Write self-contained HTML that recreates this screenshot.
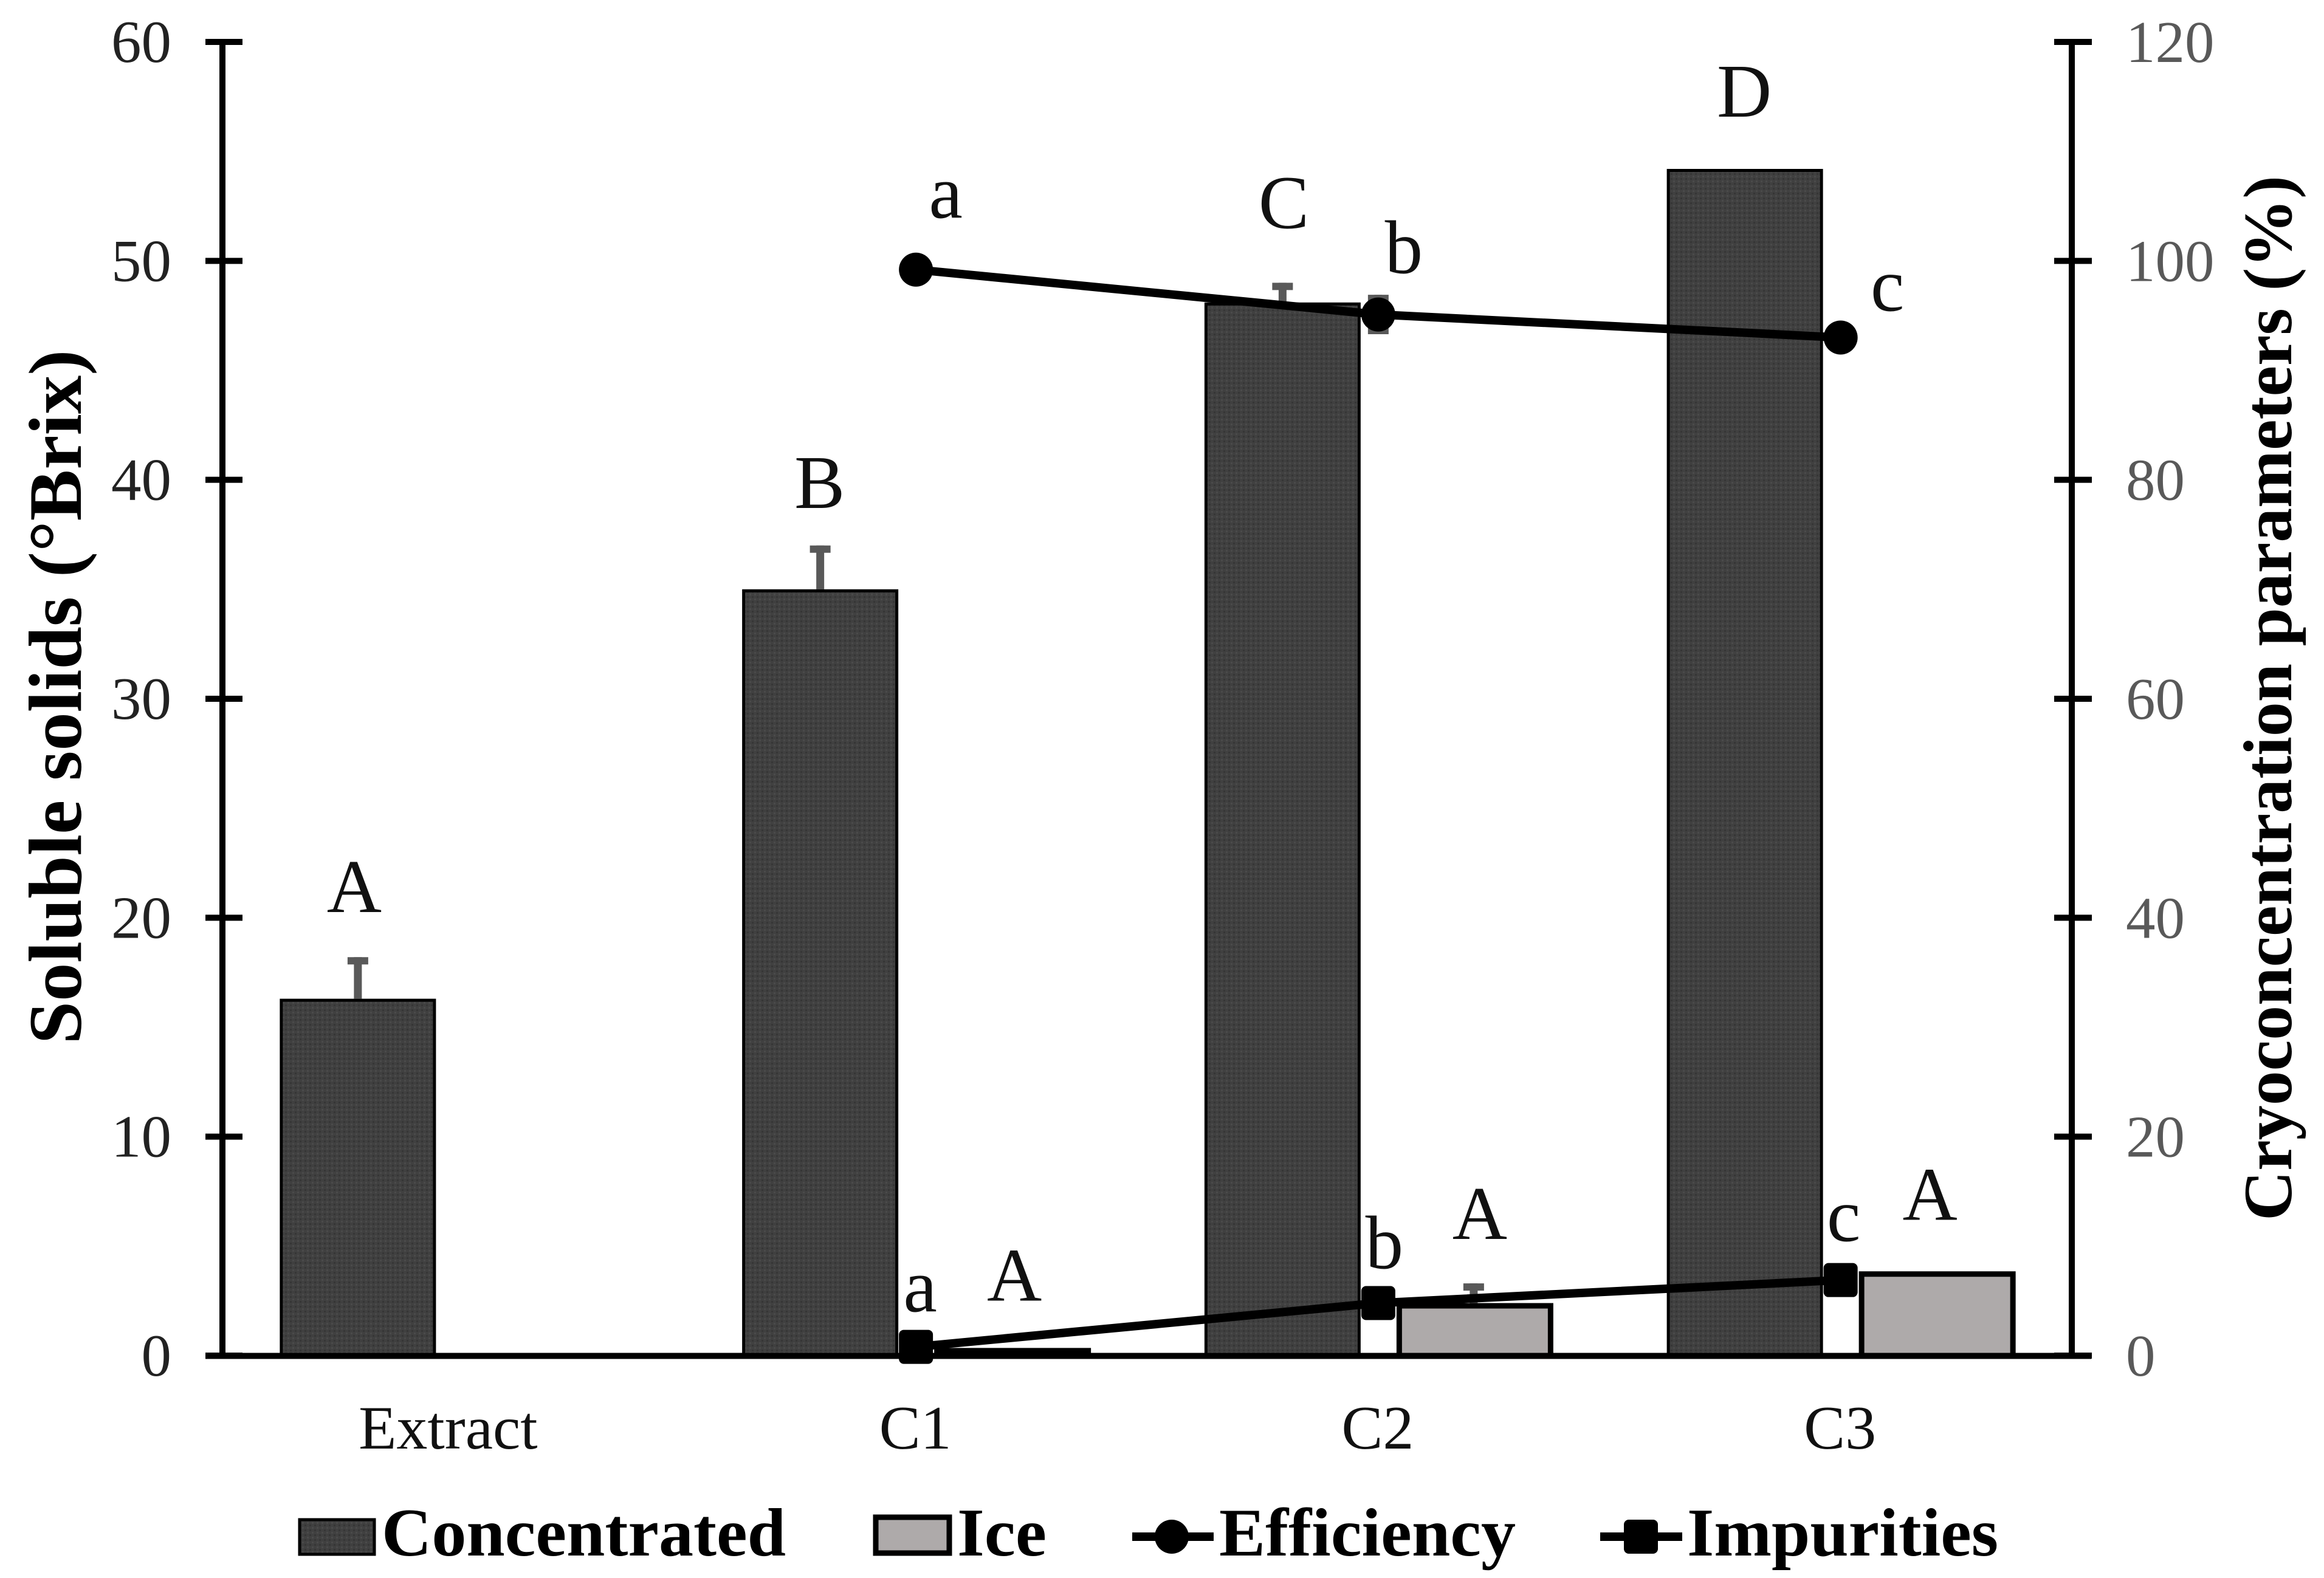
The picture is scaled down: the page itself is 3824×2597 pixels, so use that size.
<!DOCTYPE html>
<html lang="en">
<head>
<meta charset="utf-8">
<title>Soluble solids and cryoconcentration parameters</title>
<style>
html,body{margin:0;padding:0;background:#fff;}
svg{display:block;}
text{font-family:"Liberation Serif",serif;}
</style>
</head>
<body>
<svg id="chart" xmlns="http://www.w3.org/2000/svg" width="3824" height="2597" viewBox="0 0 3824 2597">
  <defs>
    <pattern id="bar-texture" width="8" height="8" patternUnits="userSpaceOnUse">
      <rect width="8" height="8" fill="#404040"/>
      <rect x="1" y="1" width="3" height="3" fill="#4a4a4a"/>
      <rect x="5" y="5" width="3" height="3" fill="#363636"/>
    </pattern>
  </defs>
  <rect x="0" y="0" width="3824" height="2597" fill="#fff"/>
  <g id="plot"></g>

  <text transform="translate(133,1147) rotate(-90)" text-anchor="middle" font-weight="bold" font-size="124" fill="#000" textLength="1143" lengthAdjust="spacingAndGlyphs">Soluble solids (°Brix)</text>
  <text transform="translate(3770,1149) rotate(-90)" text-anchor="middle" font-weight="bold" font-size="113" fill="#000" textLength="1720" lengthAdjust="spacingAndGlyphs">Cryoconcentration parameters (%)</text>

  <g>
    <g>
      <rect x="493" y="2501" width="123" height="57" fill="url(#bar-texture)" stroke="#000" stroke-width="5"/>
      <text x="628" y="2560" font-weight="bold" font-size="112" fill="#000" textLength="665" lengthAdjust="spacingAndGlyphs">Concentrated</text>
    </g>
    <g>
      <rect x="1441" y="2497" width="121" height="59" fill="#aeaaaa" stroke="#000" stroke-width="9"/>
      <text x="1575" y="2560" font-weight="bold" font-size="112" fill="#000" textLength="147" lengthAdjust="spacingAndGlyphs">Ice</text>
    </g>
    <g>
      <line x1="1863" y1="2529" x2="1997" y2="2529" stroke="#000" stroke-width="14"/>
      <circle cx="1928" cy="2529" r="28" fill="#000"/>
      <text x="2006" y="2560" font-weight="bold" font-size="112" fill="#000" textLength="488" lengthAdjust="spacingAndGlyphs">Efficiency</text>
    </g>
    <g>
      <line x1="2633" y1="2529" x2="2768" y2="2529" stroke="#000" stroke-width="14"/>
      <rect x="2672" y="2501" width="56" height="56" rx="8" fill="#000"/>
      <text x="2776" y="2560" font-weight="bold" font-size="112" fill="#000" textLength="512" lengthAdjust="spacingAndGlyphs">Impurities</text>
    </g>
  </g>
</svg>
<script>
const categories = ['Extract', 'C1', 'C2', 'C3'];
const concentrated = [16.3, 35.0, 48.1, 54.2];
const concentratedErr = [1.9, 2.0, 0.9, 0];
const ice = [null, 0.35, 2.4, 3.85];
const iceErr = [null, 0, 0.9, 0];
const efficiency = [null, 99.2, 95.1, 93.0];
const efficiencyErr = [null, 0, 1.8, 0];
const impurities = [null, 0.8, 4.8, 6.9];
const leftTicks = [0, 10, 20, 30, 40, 50, 60];
const rightTicks = [0, 20, 40, 60, 80, 100, 120];
const concentratedLetters = ['A', 'B', 'C', 'D'];
const iceLetters = [null, 'A', 'A', 'A'];
const efficiencyLetters = [null, 'a', 'b', 'c'];
const impurityLetters = [null, 'a', 'b', 'c'];

const NS = 'http://www.w3.org/2000/svg';
const plot = document.getElementById('plot');
const X0 = 366, X1 = 3409, Y0 = 2231, Y1 = 69;
const LEFT_MAX = 60, RIGHT_MAX = 120;
const band = (X1 - X0) / categories.length;
const catX = i => X0 + band * (i + 0.5);
const yL = v => Y0 - (v / LEFT_MAX) * (Y0 - Y1);
const yR = v => Y0 - (v / RIGHT_MAX) * (Y0 - Y1);

function make(tag, attrs, parent) {
  const el = document.createElementNS(NS, tag);
  for (const k in attrs) el.setAttribute(k, attrs[k]);
  (parent || plot).appendChild(el);
  return el;
}

function errorBar(cx, yBase, yTop, name, bothCaps) {
  const g = make('g', {});
  
  
  make('line', {x1: cx, x2: cx, y1: yBase, y2: yTop, stroke: '#595959', 'stroke-width': 13}, g);
  make('line', {x1: cx - 17, x2: cx + 17, y1: yTop + 6, y2: yTop + 6, stroke: '#595959', 'stroke-width': 12}, g);
  if (bothCaps) {
    make('line', {x1: cx - 17, x2: cx + 17, y1: yBase - 6, y2: yBase - 6, stroke: '#595959', 'stroke-width': 12}, g);
  }
}

function letter(str, x, y, name) {
  const t = make('text', {x: x, y: y, 'text-anchor': 'middle', 'font-size': 125, fill: '#111'});
  t.textContent = str;
  
  
}

// concentrated bars
const BW = 257;
const CONC_OFFSET = -286;
const ICE_OFFSET = 30;
const ICE_W = 258;
concentrated.forEach((v, i) => {
  const x = catX(i) + CONC_OFFSET;
  const top = yL(v);
  if (concentratedErr[i] > 0) {
    errorBar(x + BW / 2, top, yL(v + concentratedErr[i]), 'error-bar-concentrated-' + categories[i].toLowerCase(), false);
  }
  const r = make('rect', {x: x + 2.5, y: top + 2.5, width: BW - 5, height: Y0 - top - 2.5, fill: 'url(#bar-texture)', stroke: '#000', 'stroke-width': 5});
  
  
});

// ice bars
ice.forEach((v, i) => {
  if (v === null) return;
  const x = catX(i) + ICE_OFFSET;
  const top = yL(v);
  if (iceErr[i] > 0) {
    errorBar(x + ICE_W / 2 - 2, top, yL(v + iceErr[i]), 'error-bar-ice-' + categories[i].toLowerCase(), false);
  }
  const r = make('rect', {x: x + 4.5, y: top + 4.5, width: ICE_W - 9, height: Math.max(Y0 - top - 4.5, 1), fill: '#aeaaaa', stroke: '#000', 'stroke-width': 9});
  
  
});

// axes
const leftAxis = make('line', {x1: X0, x2: X0, y1: Y1 - 5, y2: Y0 + 5, stroke: '#000', 'stroke-width': 10});


const rightAxis = make('line', {x1: X1, x2: X1, y1: Y1 - 5, y2: Y0 + 5, stroke: '#000', 'stroke-width': 10});


const bottomAxis = make('line', {x1: 338, x2: 3441, y1: Y0 + 0.5, y2: Y0 + 0.5, stroke: '#000', 'stroke-width': 10});



leftTicks.forEach(v => {
  const y = yL(v);
  const tick = make('line', {x1: 338, x2: 399, y1: y, y2: y, stroke: '#000', 'stroke-width': 10});
  
  
  const t = make('text', {x: 282, y: y + 33, 'text-anchor': 'end', 'font-size': 99, fill: '#222'});
  t.textContent = v;
  
  
});

rightTicks.forEach(v => {
  const y = yR(v);
  const tick = make('line', {x1: 3380, x2: 3442, y1: y, y2: y, stroke: '#000', 'stroke-width': 10});
  
  
  const t = make('text', {x: 3498, y: y + 33, 'text-anchor': 'start', 'font-size': 97, fill: '#595959'});
  t.textContent = v;
  
  
});

categories.forEach((c, i) => {
  const t = make('text', {x: catX(i) - (i === 0 ? 9 : 1), y: 2384, 'text-anchor': 'middle', 'font-size': 102, fill: '#111'});
  t.textContent = c;
  
  
});

// efficiency line
const effPts = efficiency.map((v, i) => v === null ? null : [catX(i), yR(v)]).filter(Boolean);
const effLine = make('polyline', {points: effPts.map(p => p.join(',')).join(' '), fill: 'none', stroke: '#000', 'stroke-width': 14});


efficiency.forEach((v, i) => {
  if (v === null) return;
  if (efficiencyErr[i] > 0) {
    errorBar(catX(i), yR(v - efficiencyErr[i]), yR(v + efficiencyErr[i]), 'error-bar-efficiency-' + categories[i].toLowerCase(), true);
  }
  const m = make('circle', {cx: catX(i), cy: yR(v), r: 28, fill: '#000'});
  
  
});

// impurities line
const impPts = impurities.map((v, i) => v === null ? null : [catX(i), yR(v)]).filter(Boolean);
const impLine = make('polyline', {points: impPts.map(p => p.join(',')).join(' '), fill: 'none', stroke: '#000', 'stroke-width': 14});


impurities.forEach((v, i) => {
  if (v === null) return;
  const m = make('rect', {x: catX(i) - 28, y: yR(v) - 28, width: 56, height: 56, rx: 8, fill: '#000'});
  
  
});

// significance letters, anchored to the mark they annotate
const concDx = [-6, -1, 2, -1];
const concLift = [74, 62, 90, 86];
concentratedLetters.forEach((s, i) => {
  const cx = catX(i) + CONC_OFFSET + BW / 2;
  letter(s, cx + concDx[i], yL(concentrated[i] + concentratedErr[i]) - concLift[i], 'letter-concentrated-' + categories[i].toLowerCase());
});
const iceDx = [0, 3, 8, -12];
const iceLift = [0, 78, 73, 85];
iceLetters.forEach((s, i) => {
  if (!s) return;
  const cx = catX(i) + ICE_OFFSET + ICE_W / 2;
  const base = yL(ice[i] + iceErr[i]);
  letter(s, cx + iceDx[i], base - iceLift[i], 'letter-ice-' + categories[i].toLowerCase());
});
const effDx = [0, 49, 42, 77];
const effLift = [0, 85, 68, 44];
efficiencyLetters.forEach((s, i) => {
  if (!s) return;
  letter(s, catX(i) + effDx[i], yR(efficiency[i]) - effLift[i], 'letter-efficiency-' + categories[i].toLowerCase());
});
const impDx = [0, 7, 10, 5];
const impLift = [0, 58, 57, 64];
impurityLetters.forEach((s, i) => {
  if (!s) return;
  letter(s, catX(i) + impDx[i], yR(impurities[i]) - impLift[i], 'letter-impurities-' + categories[i].toLowerCase());
});
</script>
</body>
</html>
